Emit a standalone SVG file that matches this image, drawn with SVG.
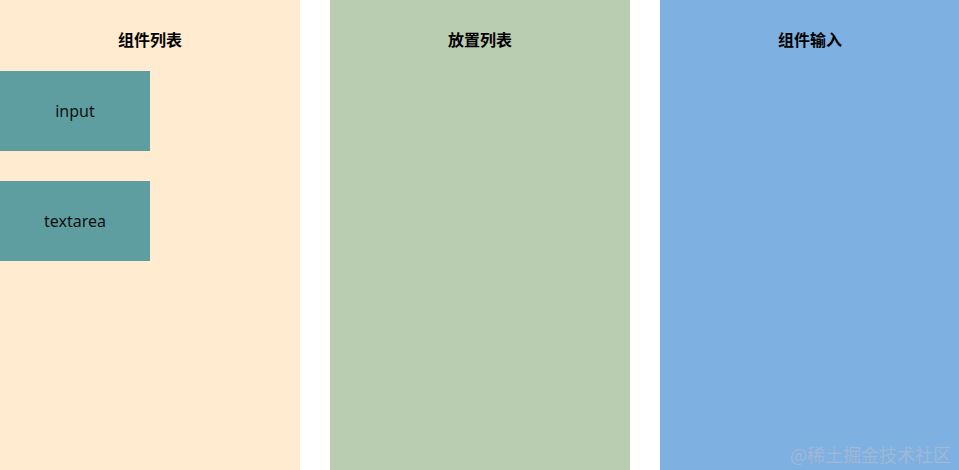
<svg xmlns="http://www.w3.org/2000/svg" width="959" height="470" viewBox="0 0 959 470">
<style>
.title{font-family:"Noto Sans CJK SC","Liberation Sans",sans-serif;font-size:16px;font-weight:bold;fill:#000;text-anchor:middle;dominant-baseline:central}
.item{font-family:"Noto Sans","Liberation Sans",sans-serif;font-size:16px;fill:#111;text-anchor:middle;dominant-baseline:central}
.node{fill:#5f9ea0}
.wm{font-family:"Noto Sans CJK SC",sans-serif;font-size:18px;fill:#a0b8d6;text-anchor:end;dominant-baseline:central}
</style>
<rect width="959" height="470" fill="#ffffff"/>
<g id="panel-list">
<rect x="0" y="0" width="300" height="470" fill="#ffebcf"/>
<text class="title" x="150" y="39">组件列表</text>
</g>
<g id="panel-place">
<rect x="330" y="0" width="300" height="470" fill="#b9cdb1"/>
<text class="title" x="480" y="39">放置列表</text>
</g>
<g id="panel-input">
<rect x="660" y="0" width="299" height="470" fill="#7eb0e2"/>
<text class="title" x="810" y="39">组件输入</text>
</g>
<g id="node-input">
<rect class="node" x="0" y="71" width="150" height="80"/>
<text class="item" x="75" y="111">input</text>
</g>
<g id="node-textarea">
<rect class="node" x="0" y="181" width="150" height="80"/>
<text class="item" x="75" y="221">textarea</text>
</g>
<g id="connectors"></g>
<text class="wm" x="951" y="454">@稀土掘金技术社区</text>
</svg>
